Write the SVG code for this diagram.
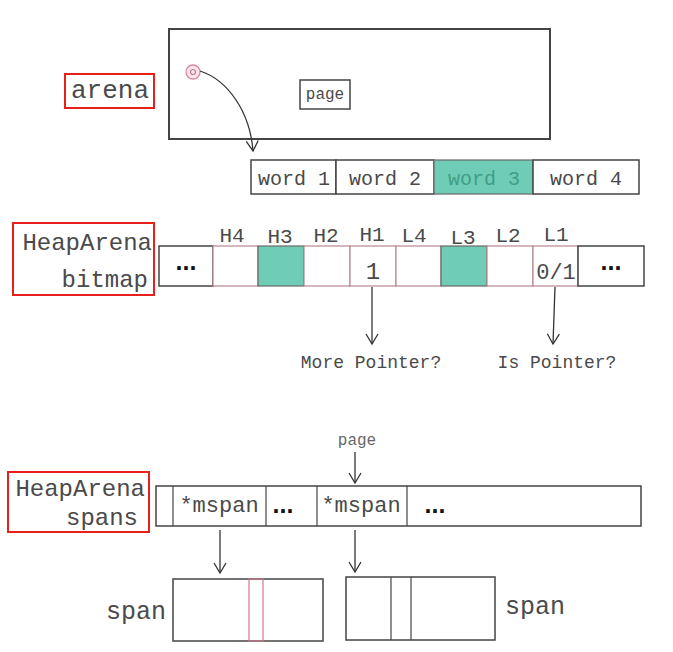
<svg xmlns="http://www.w3.org/2000/svg" width="673" height="652" viewBox="0 0 673 652">
<defs>
<style>
.t{font-family:"Liberation Mono","DejaVu Sans Mono",monospace;fill:#4a4a4a}
.box{fill:#fff;stroke:#444;stroke-width:1.5}
.cell{fill:#fff;stroke:#b88890;stroke-width:1.2}
.teal{fill:#6fcdb5;stroke:#6a6a6a;stroke-width:1.2}
.red{fill:none;stroke:#e8201c;stroke-width:2}
.dots{font-family:"Liberation Sans",Arial,sans-serif;font-weight:bold;font-size:25px;fill:#111}
.conn{fill:none;stroke:#333;stroke-width:1.3}
</style>
<marker id="v" markerWidth="14" markerHeight="14" refX="12" refY="7" orient="auto" markerUnits="userSpaceOnUse" viewBox="0 0 14 14">
<polyline points="2,1 12,7 2,13" fill="none" stroke="#333" stroke-width="1.3"/>
</marker>
</defs>
<rect width="673" height="652" fill="#fff"/>

<g id="arena">
<rect x="65" y="74" width="89" height="34" class="red"/>
<text x="110" y="98" class="t" font-size="26" text-anchor="middle">arena</text>
<rect x="169" y="29" width="381" height="110" fill="#fff" stroke="#444" stroke-width="2"/>
<circle cx="193" cy="72" r="7" fill="#fbe6ee" stroke="#d88aa0" stroke-width="1.3"/>
<circle cx="193" cy="72" r="2.5" fill="none" stroke="#c87890" stroke-width="1.2"/>
</g>
<g id="page">
<rect x="300" y="80" width="50" height="29" class="box" stroke-width="1.2"/>
<text x="325" y="99" class="t" font-size="16" text-anchor="middle">page</text>
</g>

<g id="words">
<rect x="251" y="160" width="85" height="34" class="box" stroke-width="1.2"/>
<rect x="336" y="160" width="98" height="34" class="box" stroke-width="1.2"/>
<rect x="434" y="160" width="99" height="34" class="teal"/>
<rect x="533" y="160" width="106" height="34" class="box" stroke-width="1.2"/>
<text x="294" y="185" class="t" font-size="20" text-anchor="middle">word 1</text>
<text x="385" y="185" class="t" font-size="20" text-anchor="middle">word 2</text>
<text x="484" y="185" class="t" font-size="20" text-anchor="middle" style="fill:#3f9e88">word 3</text>
<text x="586" y="185" class="t" font-size="20" text-anchor="middle">word 4</text>
</g>

<g id="bitmap-label">
<rect x="13" y="223" width="141" height="72" class="red"/>
<text x="152" y="250" class="t" font-size="24" text-anchor="end">HeapArena</text>
<text x="148" y="287" class="t" font-size="24" text-anchor="end">bitmap</text>
</g>

<g id="bitmap">
<rect x="159" y="246" width="54" height="40" class="box" stroke-width="1.2"/>
<rect x="213" y="246" width="45" height="40" class="cell"/>
<rect x="258" y="246" width="46" height="40" class="teal"/>
<rect x="304" y="246" width="46" height="40" class="cell"/>
<rect x="350" y="246" width="46" height="40" class="cell"/>
<rect x="396" y="246" width="45" height="40" class="cell"/>
<rect x="441" y="246" width="46" height="40" class="teal"/>
<rect x="487" y="246" width="46" height="40" class="cell"/>
<rect x="533" y="246" width="45" height="40" class="cell"/>
<rect x="578" y="246" width="66" height="40" class="box" stroke-width="1.2"/>
<text x="186" y="270" class="dots" text-anchor="middle">...</text>
<text x="611" y="270" class="dots" text-anchor="middle">...</text>
<text x="373" y="279" class="t" font-size="24" text-anchor="middle">1</text>
<text x="556" y="279" class="t" font-size="22" text-anchor="middle">0/1</text>
<g class="t" font-size="21" text-anchor="middle">
<text x="232" y="242">H4</text>
<text x="280" y="243">H3</text>
<text x="326" y="242">H2</text>
<text x="372" y="241">H1</text>
<text x="414" y="242">L4</text>
<text x="463" y="244">L3</text>
<text x="508" y="242">L2</text>
<text x="556" y="241">L1</text>
</g>
<text x="371" y="368" class="t" font-size="18" text-anchor="middle">More Pointer?</text>
<text x="557" y="368" class="t" font-size="18" text-anchor="middle">Is Pointer?</text>
</g>

<g id="spans-label">
<rect x="8" y="472" width="141" height="60" class="red"/>
<text x="145" y="496" class="t" font-size="24" text-anchor="end">HeapArena</text>
<text x="138" y="525" class="t" font-size="24" text-anchor="end">spans</text>
</g>

<g id="spans">
<rect x="156" y="486" width="485" height="40" class="box" stroke-width="1.2"/>
<line x1="173" y1="486" x2="173" y2="526" stroke="#444" stroke-width="1.2"/>
<line x1="266" y1="486" x2="266" y2="526" stroke="#444" stroke-width="1.2"/>
<line x1="317" y1="486" x2="317" y2="526" stroke="#444" stroke-width="1.2"/>
<line x1="407" y1="486" x2="407" y2="526" stroke="#444" stroke-width="1.2"/>
<text x="219" y="512" class="t" font-size="22" text-anchor="middle">*mspan</text>
<text x="361" y="512" class="t" font-size="22" text-anchor="middle">*mspan</text>
<text x="283" y="513" class="dots" text-anchor="middle">...</text>
<text x="435" y="513" class="dots" text-anchor="middle">...</text>
<text x="357" y="445" class="t" font-size="16" text-anchor="middle" style="fill:#666">page</text>
</g>

<g id="span-left">
<rect x="173" y="579" width="150" height="62" class="box" stroke-width="1.2"/>
<rect x="249" y="579" width="14" height="62" fill="none" stroke="#d07888" stroke-width="1.2"/>
<text x="136" y="619" class="t" font-size="25" text-anchor="middle">span</text>
</g>
<g id="span-right">
<rect x="346" y="577" width="149" height="63" class="box" stroke-width="1.2"/>
<line x1="391" y1="577" x2="391" y2="640" stroke="#444" stroke-width="1.2"/>
<line x1="411" y1="577" x2="411" y2="640" stroke="#444" stroke-width="1.2"/>
<text x="535" y="614" class="t" font-size="25" text-anchor="middle">span</text>
</g>

<g id="connectors">
<path d="M200,71 C228,80 250,112 253,151" class="conn" stroke-width="1.6" marker-end="url(#v)"/>
<line x1="372" y1="287" x2="372" y2="344" class="conn" marker-end="url(#v)"/>
<line x1="555" y1="287" x2="553" y2="344" class="conn" marker-end="url(#v)"/>
<line x1="355" y1="452" x2="355" y2="483" class="conn" marker-end="url(#v)"/>
<line x1="220" y1="530" x2="220" y2="573" class="conn" marker-end="url(#v)"/>
<line x1="355" y1="530" x2="355" y2="572" class="conn" marker-end="url(#v)"/>
</g>
</svg>
